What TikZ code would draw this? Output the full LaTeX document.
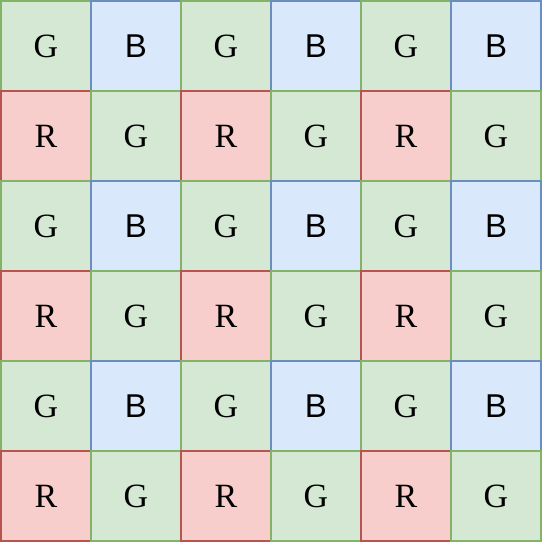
\documentclass[tikz,border=0pt]{standalone}
\usepackage{fontspec}
\newfontfamily\serifface{Liberation Serif}
\newfontfamily\sansface{Liberation Sans}
\definecolor{gfill}{HTML}{D5E8D4}
\definecolor{gline}{HTML}{82B366}
\definecolor{bfill}{HTML}{DAE8FC}
\definecolor{bline}{HTML}{6C8EBF}
\definecolor{rfill}{HTML}{F8CECC}
\definecolor{rline}{HTML}{B85450}
\begin{document}
\begin{tikzpicture}[x=1pt,y=-1pt,
  cell/.style={minimum size=90pt,inner sep=0pt,line width=2.6pt,anchor=center},
  gcell/.style={cell,fill=gfill,draw=gline,font=\serifface\fontsize{34}{38}\selectfont},
  bcell/.style={cell,fill=bfill,draw=bline,font=\sansface\fontsize{33}{38}\selectfont},
  rcell/.style={cell,fill=rfill,draw=rline,font=\serifface\fontsize{34}{38}\selectfont}]
\useasboundingbox (0,0) rectangle (546,546);
\foreach \r in {0,...,5}{
  \foreach \c in {0,...,5}{
    \pgfmathtruncatemacro{\ev}{mod(\r,2)}
    \pgfmathtruncatemacro{\ec}{mod(\c,2)}
    \ifnum\ev=0
      \ifnum\ec=0
        \node[gcell] (c\r\c) at ({46+90*\c},{46+90*\r}) {G};
      \else
        \node[bcell] (c\r\c) at ({46+90*\c},{46+90*\r}) {B};
      \fi
    \else
      \ifnum\ec=0
        \node[rcell] (c\r\c) at ({46+90*\c},{46+90*\r}) {R};
      \else
        \node[gcell] (c\r\c) at ({46+90*\c},{46+90*\r}) {G};
      \fi
    \fi
  }
}
\end{tikzpicture}
\end{document}
